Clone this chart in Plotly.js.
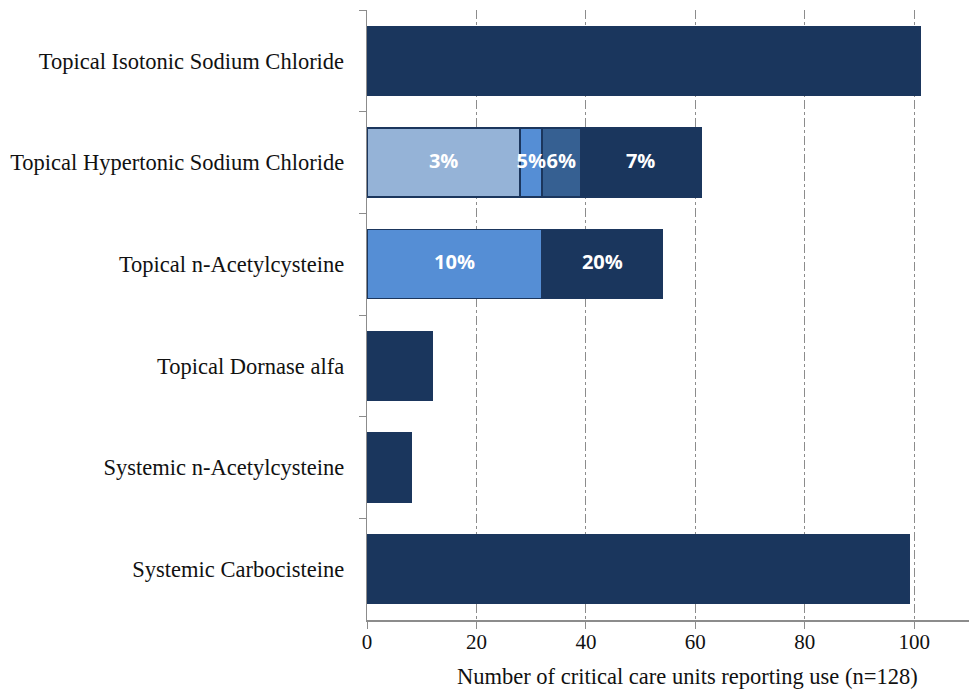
<!DOCTYPE html>
<html>
<head>
<meta charset="utf-8">
<script src="https://cdn.plot.ly/plotly-3.0.1.min.js"></script>
<style>html,body{margin:0;padding:0;background:#fff;}#chart{width:972px;height:689px;}</style>
</head>
<body>
<div id="chart"></div>
<script>
var categories = [
  "Topical Isotonic Sodium Chloride",
  "Topical Hypertonic Sodium Chloride",
  "Topical n-Acetylcysteine",
  "Topical Dornase alfa",
  "Systemic n-Acetylcysteine",
  "Systemic Carbocisteine"
];
var seg1Values = [0, 28, 0, 0, 0, 0];
var seg1Labels = ["", "3%", "", "", "", ""];
var seg2Values = [0, 4, 32, 0, 0, 0];
var seg2Labels = ["", "5%", "10%", "", "", ""];
var seg3Values = [0, 7, 0, 0, 0, 0];
var seg3Labels = ["", "6%", "", "", "", ""];
var seg4Values = [101, 22, 22, 12, 8, 99];
var seg4Labels = ["", "7%", "20%", "", "", ""];
var xTicks = [0, 20, 40, 60, 80, 100];
var xTitle = "Number of critical care units reporting use (n=128)";

var segValues = [seg1Values, seg2Values, seg3Values, seg4Values];
var segLabels = [seg1Labels, seg2Labels, seg3Labels, seg4Labels];
var segColors = ["#95b3d7", "#558ed5", "#366092", "#1a365d"];

var data = [];
for (var s = 0; s < segValues.length; s++) {
  data.push({
    type: "bar", orientation: "h", y: categories, x: segValues[s],
    marker: {color: segColors[s], line: {color: "#1b365d", width: 1.5}},
    width: 0.68, hoverinfo: "x+y", showlegend: false
  });
}
// labels drawn on top, at the middle of each stacked segment
var lx = [], ly = [], lt = [];
for (var i = 0; i < categories.length; i++) {
  var base = 0;
  for (var s2 = 0; s2 < segValues.length; s2++) {
    var v = segValues[s2][i];
    if (segLabels[s2][i]) { lx.push(base + v / 2); ly.push(categories[i]); lt.push(segLabels[s2][i]); }
    base += v;
  }
}
data.push({
  type: "scatter", mode: "text", x: lx, y: ly, text: lt,
  textposition: "middle center", cliponaxis: false, showlegend: false, hoverinfo: "skip",
  textfont: {family: "Open Sans", size: 20, color: "#ffffff", weight: "bold"}
});

var layout = {
  width: 972, height: 689,
  margin: {l: 367, r: 3, t: 10, b: 69},
  barmode: "stack",
  paper_bgcolor: "#ffffff", plot_bgcolor: "#ffffff",
  xaxis: {
    range: [0, 110], tickvals: xTicks, ticktext: xTicks.map(String),
    showgrid: true, gridcolor: "#8c8c8c", griddash: "dashdot", gridwidth: 1,
    zeroline: false, showline: true, linecolor: "#8c8c8c", linewidth: 1.5,
    ticks: "outside", ticklen: 7, tickcolor: "#8c8c8c",
    ticklabelstandoff: -5,
    tickfont: {family: "Liberation Serif", size: 21, color: "#111"}
  },
  yaxis: {
    type: "category", autorange: "reversed",
    showline: true, linecolor: "#8c8c8c", linewidth: 1.5,
    ticks: "outside", tickson: "boundaries", ticklen: 7, tickcolor: "#8c8c8c",
    showgrid: false, zeroline: false,
    tickfont: {family: "Liberation Serif", size: 22.5, color: "#111"},
    ticksuffix: "   "
  },
  annotations: [{
    text: xTitle, xref: "paper", yref: "paper", x: 0.533, y: 0,
    yshift: -56, xanchor: "center", yanchor: "middle", showarrow: false,
    font: {family: "Liberation Serif", size: 22.5, color: "#111"}
  }]
};
Plotly.newPlot("chart", data, layout, {displayModeBar: false, staticPlot: true});
</script>
</body>
</html>
